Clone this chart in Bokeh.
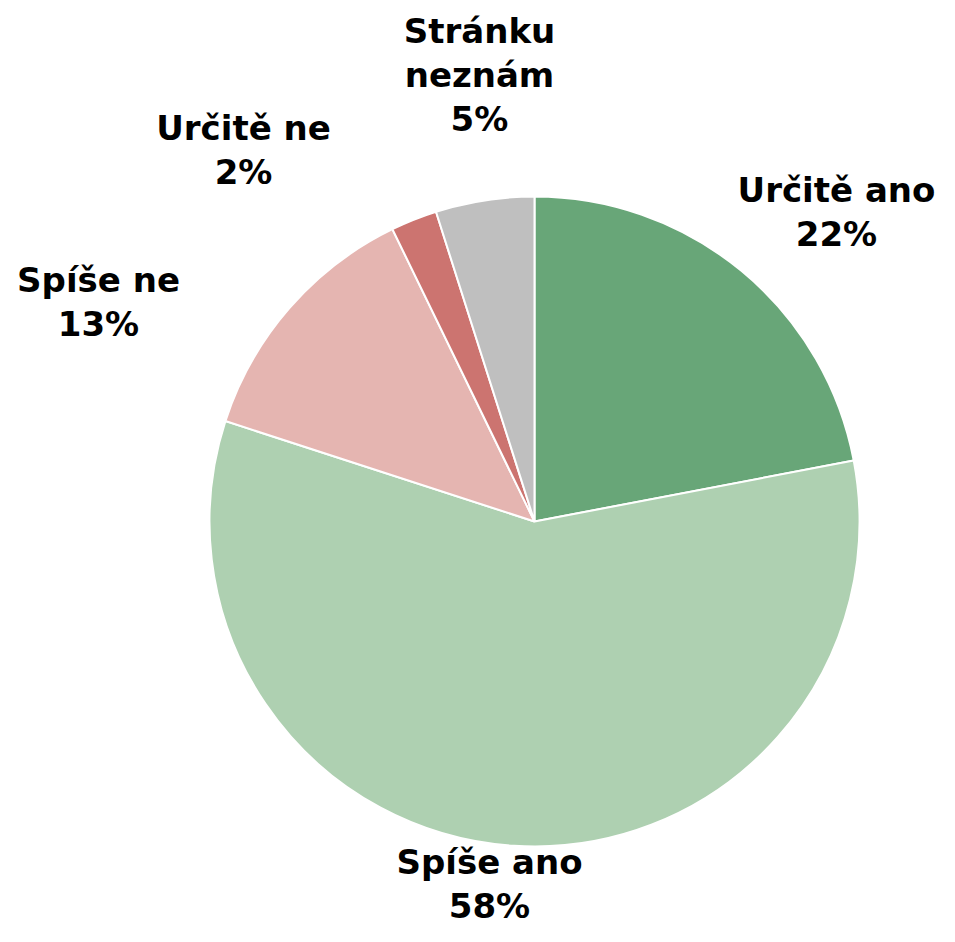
import math
from bokeh.plotting import figure
from bokeh.models import ColumnDataSource, Range1d
from bokeh.core.properties import value
from bokeh.embed import file_html
from bokeh.resources import INLINE

# data
categories = ["Určitě ano", "Spíše ano", "Spíše ne", "Určitě ne", "Stránku neznám"]
shares = [22.0, 58.0, 12.8, 2.3, 4.9]
colors = ["#68A678", "#AED0B1", "#E5B5B1", "#CC7470", "#BFBFBF"]
label_names = ["Určitě ano", "Spíše ano", "Spíše ne", "Určitě ne", "Stránku\nneznám"]

# layout (image pixels, converted to plot coords below)
W, H = 939, 926
IMG_H = 942
cx, cy_img, R = 534, 521, 325
label_pos_img = [(836, 211.5), (489, 883), (98, 301), (243, 149), (479, 74)]

def sy(y):
    return IMG_H - y

total = sum(shares)
starts, ends = [], []
cum = 0.0
for s in shares:
    a0 = math.pi / 2 - 2 * math.pi * cum / total
    cum += s
    a1 = math.pi / 2 - 2 * math.pi * cum / total
    starts.append(a1)
    ends.append(a0)

src = ColumnDataSource(dict(cat=categories, share=shares, color=colors,
                            start=starts, end=ends))

p = figure(width=W, height=H, output_backend="svg", toolbar_location=None,
           x_range=Range1d(0, W), y_range=Range1d(IMG_H - H, IMG_H),
           min_border=0, outline_line_color=None)
p.axis.visible = False
p.grid.visible = False
p.background_fill_color = "white"

p.wedge(x=cx, y=sy(cy_img), radius=R, start_angle="start", end_angle="end",
        fill_color="color", line_color="white", line_width=2, source=src)

texts = [f"{n}\n{round(s)}%" for n, s in zip(label_names, shares)]
lsrc = ColumnDataSource(dict(x=[q[0] for q in label_pos_img],
                             y=[sy(q[1]) for q in label_pos_img],
                             t=texts))
p.text(x="x", y="y", text="t", source=lsrc, text_font=value("DejaVu Sans"),
       text_font_style="bold", text_font_size="34px", text_align="center",
       text_baseline="middle", text_line_height=1.1, text_color="black")

open("out.html", "w").write(file_html(p, INLINE))
